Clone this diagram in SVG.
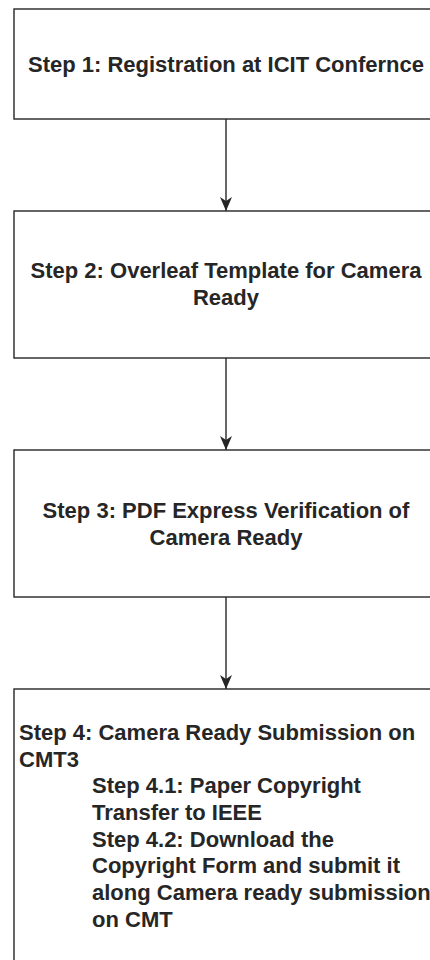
<svg xmlns="http://www.w3.org/2000/svg" width="430" height="960" viewBox="0 0 430 960">
<defs>
<style>
.box{fill:#ffffff;stroke:#262626;stroke-width:1.4}
.edge{fill:none;stroke:#262626;stroke-width:1.4}
.t{font-family:"Liberation Sans",Arial,sans-serif;font-weight:bold;font-size:22px;fill:#262626}
.c{text-anchor:middle}
</style>
<marker id="arr" viewBox="0 0 14 12" refX="14" refY="6" markerWidth="14" markerHeight="12" markerUnits="userSpaceOnUse" orient="auto">
<path d="M0,0 L14,6 L0,12 L4,6 Z" fill="#262626"/>
</marker>
</defs>
<rect width="430" height="960" fill="#ffffff"/>
<g id="connectors">
<line class="edge" x1="226" y1="119" x2="226" y2="211" marker-end="url(#arr)"/>
<line class="edge" x1="226" y1="358" x2="226" y2="450" marker-end="url(#arr)"/>
<line class="edge" x1="226" y1="597" x2="226" y2="689" marker-end="url(#arr)"/>
</g>
<g id="step1">
<rect class="box" x="14" y="9" width="426" height="110"/>
<text class="t c" x="226" y="72">Step 1: Registration at ICIT Confernce</text>
</g>
<g id="step2">
<rect class="box" x="14" y="211" width="426" height="147"/>
<text class="t c" x="226" y="278">Step 2: Overleaf Template for Camera</text>
<text class="t c" x="226" y="305">Ready</text>
</g>
<g id="step3">
<rect class="box" x="14" y="450" width="426" height="147"/>
<text class="t c" x="226" y="518">Step 3: PDF Express Verification of</text>
<text class="t c" x="226" y="545">Camera Ready</text>
</g>
<g id="step4">
<rect class="box" x="14" y="689" width="426" height="290"/>
<text class="t" x="19" y="740">Step 4: Camera Ready Submission on</text>
<text class="t" x="19" y="767">CMT3</text>
<text class="t" x="92" y="793">Step 4.1: Paper Copyright</text>
<text class="t" x="92" y="820">Transfer to IEEE</text>
<text class="t" x="92" y="847">Step 4.2: Download the</text>
<text class="t" x="92" y="873">Copyright Form and submit it</text>
<text class="t" x="92" y="900">along Camera ready submission</text>
<text class="t" x="92" y="927">on CMT</text>
</g>
</svg>
